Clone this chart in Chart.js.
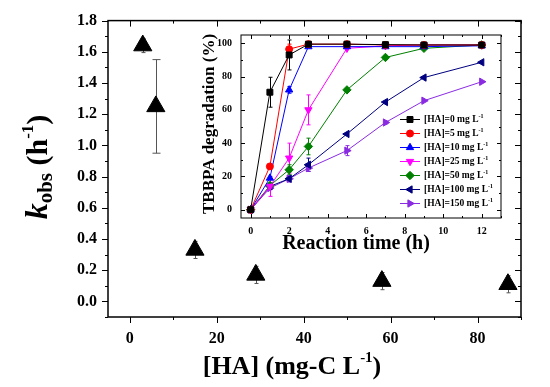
<!DOCTYPE html>
<html>
<head>
<meta charset="utf-8">
<script src="https://cdn.jsdelivr.net/npm/chart.js@4.4.0/dist/chart.umd.min.js"></script>
<style>
  html, body { margin: 0; padding: 0; background: #fff; }
  #wrap { position: relative; width: 550px; height: 387px; }
  #main { position: absolute; left: 0; top: 0; }
  #inset { position: absolute; left: 180px; top: 20px; }
</style>
</head>
<body>
<div id="wrap">
  <canvas id="main" width="550" height="387"></canvas>
  <canvas id="inset" width="330" height="240"></canvas>
</div>
<script>
// main plot: k_obs against humic acid concentration
const haConc = [3, 6, 15, 29, 58, 87];
const kObs = [1.64, 1.25, 0.33, 0.17, 0.13, 0.11];
const kErr = [0.045, 0.30, 0.055, 0.055, 0.055, 0.055];
const mainXTicks = [0, 20, 40, 60, 80];
const mainYTicks = [0, 0.2, 0.4, 0.6, 0.8, 1.0, 1.2, 1.4, 1.6, 1.8];

// inset: TBBPA degradation over time
const times = [0, 1, 2, 3, 5, 7, 9, 12];
const seriesLabels = ["0", "5", "10", "25", "50", "100", "150"];
const deg0 = [0, 70.6, 93, 99.5, 99.5, 99.2, 99, 99];
const deg5 = [0, 26, 96.5, 99.5, 99.5, 99, 99, 99];
const deg10 = [0, 19, 72, 98, 98, 98, 98, 98.5];
const deg25 = [0, 14, 31, 60, 97, 98.5, 99, 99];
const deg50 = [0, 14.5, 24, 38, 72, 91.5, 97, 99];
const deg100 = [0, 14, 18.6, 27, 45.5, 64.7, 79.4, 88.6];
const deg150 = [0, 13, 18.6, 25, 35.5, 52.4, 65.5, 76.9];
const err0 = [0, 9, 9, 0.5, 0, 0, 0, 0];
const err5 = [0, 0, 3, 0.5, 0.5, 0, 0, 0];
const err10 = [0, 0, 2, 0, 0, 0, 0, 0];
const err25 = [0, 6, 9, 9, 0, 0, 0, 0];
const err50 = [0, 0, 3, 5, 0, 0, 0, 0];
const err100 = [0, 0, 0, 4, 0, 0, 0, 0];
const err150 = [0, 0, 2, 2, 3, 1, 0, 0];
const insetXTicks = [0, 2, 4, 6, 8, 10, 12];
const insetYTicks = [0, 20, 40, 60, 80, 100];

const serif = "'Liberation Serif', 'Times New Roman', serif";

function pairs(xs, ys) {
  return xs.map((x, i) => ({ x: x, y: ys[i] }));
}

function drawFrame(chart, cfg) {
  const { ctx, chartArea: a } = chart;
  const xs = chart.scales.x, ys = chart.scales.y;
  ctx.save();
  ctx.strokeStyle = "#000";
  ctx.lineWidth = cfg.lineWidth;
  ctx.strokeRect(a.left, a.top, a.right - a.left, a.bottom - a.top);
  ctx.lineWidth = 1;
  ctx.beginPath();
  const xHalf = (cfg.xTicks[1] - cfg.xTicks[0]) / 2;
  for (let i = -1; i < 60; i++) {
    const v = cfg.xTicks[0] + i * xHalf;
    if (v < xs.min || v > xs.max) continue;
    const len = i % 2 === 0 ? cfg.major : cfg.minor;
    const px = Math.round(xs.getPixelForValue(v)) + 0.5;
    ctx.moveTo(px, a.bottom);
    ctx.lineTo(px, a.bottom + cfg.bottomDir * len);
    ctx.moveTo(px, a.top);
    ctx.lineTo(px, a.top + cfg.topDir * len);
  }
  const yHalf = (cfg.yTicks[1] - cfg.yTicks[0]) / 2;
  for (let i = -1; i < 60; i++) {
    const v = cfg.yTicks[0] + i * yHalf;
    if (v < ys.min - 1e-9 || v > ys.max + 1e-9) continue;
    const len = i % 2 === 0 ? cfg.major : cfg.minor;
    const py = Math.round(ys.getPixelForValue(v)) + 0.5;
    ctx.moveTo(a.left, py);
    ctx.lineTo(a.left + cfg.leftDir * len, py);
    ctx.moveTo(a.right, py);
    ctx.lineTo(a.right + cfg.rightDir * len, py);
  }
  ctx.stroke();
  ctx.restore();
}

function drawErrors(chart, errs, color, cap) {
  const { ctx } = chart;
  const xs = chart.scales.x, ys = chart.scales.y;
  chart.data.datasets.forEach((ds, i) => {
    const e = errs[i];
    if (!e) return;
    ctx.save();
    ctx.strokeStyle = color || ds.borderColor;
    ctx.lineWidth = 1;
    ctx.beginPath();
    ds.data.forEach((p, j) => {
      if (!e[j]) return;
      const px = Math.round(xs.getPixelForValue(p.x)) + 0.5;
      const top = ys.getPixelForValue(p.y + e[j]);
      const bot = ys.getPixelForValue(p.y - e[j]);
      const c = e[j] < 0.1 && color ? 2 : cap;
      ctx.moveTo(px, top); ctx.lineTo(px, bot);
      ctx.moveTo(px - c, top); ctx.lineTo(px + c, top);
      ctx.moveTo(px - c, bot); ctx.lineTo(px + c, bot);
    });
    ctx.stroke();
    ctx.restore();
  });
}

// writes a run of [text, font, baselineShift] pieces starting at x
function drawRuns(ctx, runs, x, y) {
  runs.forEach(r => {
    ctx.font = r[1];
    ctx.fillText(r[0], x, y + r[2]);
    x += ctx.measureText(r[0]).width;
  });
}
function runsWidth(ctx, runs) {
  let w = 0;
  runs.forEach(r => { ctx.font = r[1]; w += ctx.measureText(r[0]).width; });
  return w;
}

const mainPlugin = {
  id: "mainDecor",
  beforeDatasetsDraw(chart) {
    drawErrors(chart, [kErr], "#555", 4);
  },
  afterDraw(chart) {
    const ctx = chart.ctx;
    drawFrame(chart, {
      lineWidth: 1.5, xTicks: mainXTicks, yTicks: mainYTicks,
      major: 6, minor: 3, bottomDir: 1, topDir: 1, leftDir: -1, rightDir: -1
    });
    ctx.save();
    ctx.fillStyle = "#000";
    ctx.textBaseline = "alphabetic";
    const xRuns = [
      ["[HA] (mg-C L", "bold 26px " + serif, 0],
      ["-1", "bold 15px " + serif, -12],
      [")", "bold 26px " + serif, 0]
    ];
    drawRuns(ctx, xRuns, 292 - runsWidth(ctx, xRuns) / 2, 374);
    const yRuns = [
      ["k", "italic bold 32px " + serif, 0],
      ["obs", "bold 21px " + serif, 5],
      [" (h", "bold 30px " + serif, 0],
      ["-1", "bold 17px " + serif, -14],
      [")", "bold 30px " + serif, 0]
    ];
    ctx.translate(47, 167);
    ctx.rotate(-Math.PI / 2);
    drawRuns(ctx, yRuns, -runsWidth(ctx, yRuns) / 2, 0);
    ctx.restore();
  }
};

new Chart(document.getElementById("main"), {
  type: "scatter",
  data: {
    datasets: [{
      label: "kobs",
      data: pairs(haConc, kObs),
      pointStyle: "triangle",
      pointRadius: 10.5,
      pointHoverRadius: 10.5,
      backgroundColor: "#000",
      borderColor: "#000",
      showLine: false
    }]
  },
  options: {
    responsive: false,
    animation: false,
    layout: { padding: { top: 15, right: 29, left: 0, bottom: 0 } },
    plugins: { legend: { display: false }, tooltip: { enabled: false } },
    scales: {
      x: {
        type: "linear", min: -5, max: 90,
        grid: { display: false, drawTicks: false },
        border: { display: false },
        afterFit(s) { s.height = 70; },
        afterBuildTicks(s) { s.ticks = mainXTicks.map(v => ({ value: v })); },
        ticks: { autoSkip: false, maxRotation: 0, padding: 12, color: "#000",
                 font: { family: serif, size: 16, weight: "bold" } }
      },
      y: {
        type: "linear", min: -0.1, max: 1.8,
        grid: { display: false, drawTicks: false },
        border: { display: false },
        afterFit(s) { s.width = 108; },
        afterBuildTicks(s) { s.ticks = mainYTicks.map(v => ({ value: v })); },
        ticks: { autoSkip: false, padding: 11, color: "#000",
                 callback: v => v.toFixed(1),
                 font: { family: serif, size: 16, weight: "bold" } }
      }
    }
  },
  plugins: [mainPlugin]
});

// inset
const insetColors = ["#000000", "#ff0000", "#0000ff", "#ff00ff", "#008000", "#000080", "#8a2be2"];
const insetStyles = ["rect", "circle", "triangle", "triangle", "rectRot", "triangle", "triangle"];
const insetRotations = [0, 0, 0, 180, 0, -90, 90];
const insetValues = [deg0, deg5, deg10, deg25, deg50, deg100, deg150];
const insetErrors = [err0, err5, err10, err25, err50, err100, err150];

const insetPlugin = {
  id: "insetDecor",
  beforeDraw(chart) {
    const { ctx, chartArea: a } = chart;
    ctx.save();
    ctx.fillStyle = "#fff";
    ctx.fillRect(a.left, a.top, a.right - a.left, a.bottom - a.top);
    ctx.restore();
  },
  beforeDatasetsDraw(chart) {
    drawErrors(chart, insetErrors, null, 2);
  },
  afterDraw(chart) {
    const ctx = chart.ctx;
    drawFrame(chart, {
      lineWidth: 1, xTicks: insetXTicks, yTicks: insetYTicks,
      major: 4, minor: 2, bottomDir: -1, topDir: 1, leftDir: 1, rightDir: -1
    });
    ctx.save();
    ctx.fillStyle = "#000";
    ctx.font = "bold 20px " + serif;
    ctx.textAlign = "center";
    ctx.textBaseline = "alphabetic";
    ctx.fillText("Reaction time (h)", 176, 229);
    ctx.save();
    ctx.translate(34, 104);
    ctx.rotate(-Math.PI / 2);
    ctx.font = "bold 17px " + serif;
    ctx.fillText("TBBPA degradation (%)", 0, 0);
    ctx.restore();

    // legend
    ctx.textAlign = "left";
    ctx.textBaseline = "middle";
    chart.data.datasets.forEach((ds, i) => {
      const y = 99 + i * 14;
      ctx.strokeStyle = ds.borderColor;
      ctx.fillStyle = ds.borderColor;
      ctx.lineWidth = 1;
      ctx.beginPath();
      ctx.moveTo(220, y + 0.5);
      ctx.lineTo(240, y + 0.5);
      ctx.stroke();
      Chart.helpers.drawPoint(ctx, {
        pointStyle: ds.pointStyle, rotation: ds.pointRotation,
        radius: ds.pointRadius, borderWidth: 1
      }, 230, y + 0.5);
      ctx.fillStyle = "#000";
      const runs = [
        ["[HA]=" + seriesLabels[i] + " mg L", "bold 9.5px " + serif, 0],
        ["-1", "bold 6px " + serif, -4]
      ];
      drawRuns(ctx, runs, 244, y + 1);
    });
    ctx.restore();
  }
};

new Chart(document.getElementById("inset"), {
  type: "line",
  data: {
    datasets: insetValues.map((vals, i) => ({
      label: "[HA]=" + seriesLabels[i] + " mg L-1",
      data: pairs(times, vals),
      borderColor: insetColors[i],
      backgroundColor: insetColors[i],
      borderWidth: 1,
      pointStyle: insetStyles[i],
      pointRotation: insetRotations[i],
      pointRadius: insetStyles[i] === "circle" ? 3.5 : 4.2,
      pointBorderWidth: 1,
      tension: 0
    }))
  },
  options: {
    responsive: false,
    animation: false,
    layout: { padding: { top: 10, right: 9, left: 0, bottom: 0 } },
    plugins: { legend: { display: false }, tooltip: { enabled: false } },
    scales: {
      x: {
        type: "linear", min: -0.5, max: 13,
        grid: { display: false, drawTicks: false },
        border: { display: false },
        afterFit(s) { s.height = 42; },
        afterBuildTicks(s) { s.ticks = insetXTicks.map(v => ({ value: v })); },
        ticks: { autoSkip: false, maxRotation: 0, padding: 7, color: "#000",
                 font: { family: serif, size: 10, weight: "bold" } }
      },
      y: {
        type: "linear", min: -5, max: 105,
        grid: { display: false, drawTicks: false },
        border: { display: false },
        afterFit(s) { s.width = 61; },
        afterBuildTicks(s) { s.ticks = insetYTicks.map(v => ({ value: v })); },
        ticks: { autoSkip: false, padding: 9, color: "#000",
                 font: { family: serif, size: 10, weight: "bold" } }
      }
    }
  },
  plugins: [insetPlugin]
});
</script>
</body>
</html>
